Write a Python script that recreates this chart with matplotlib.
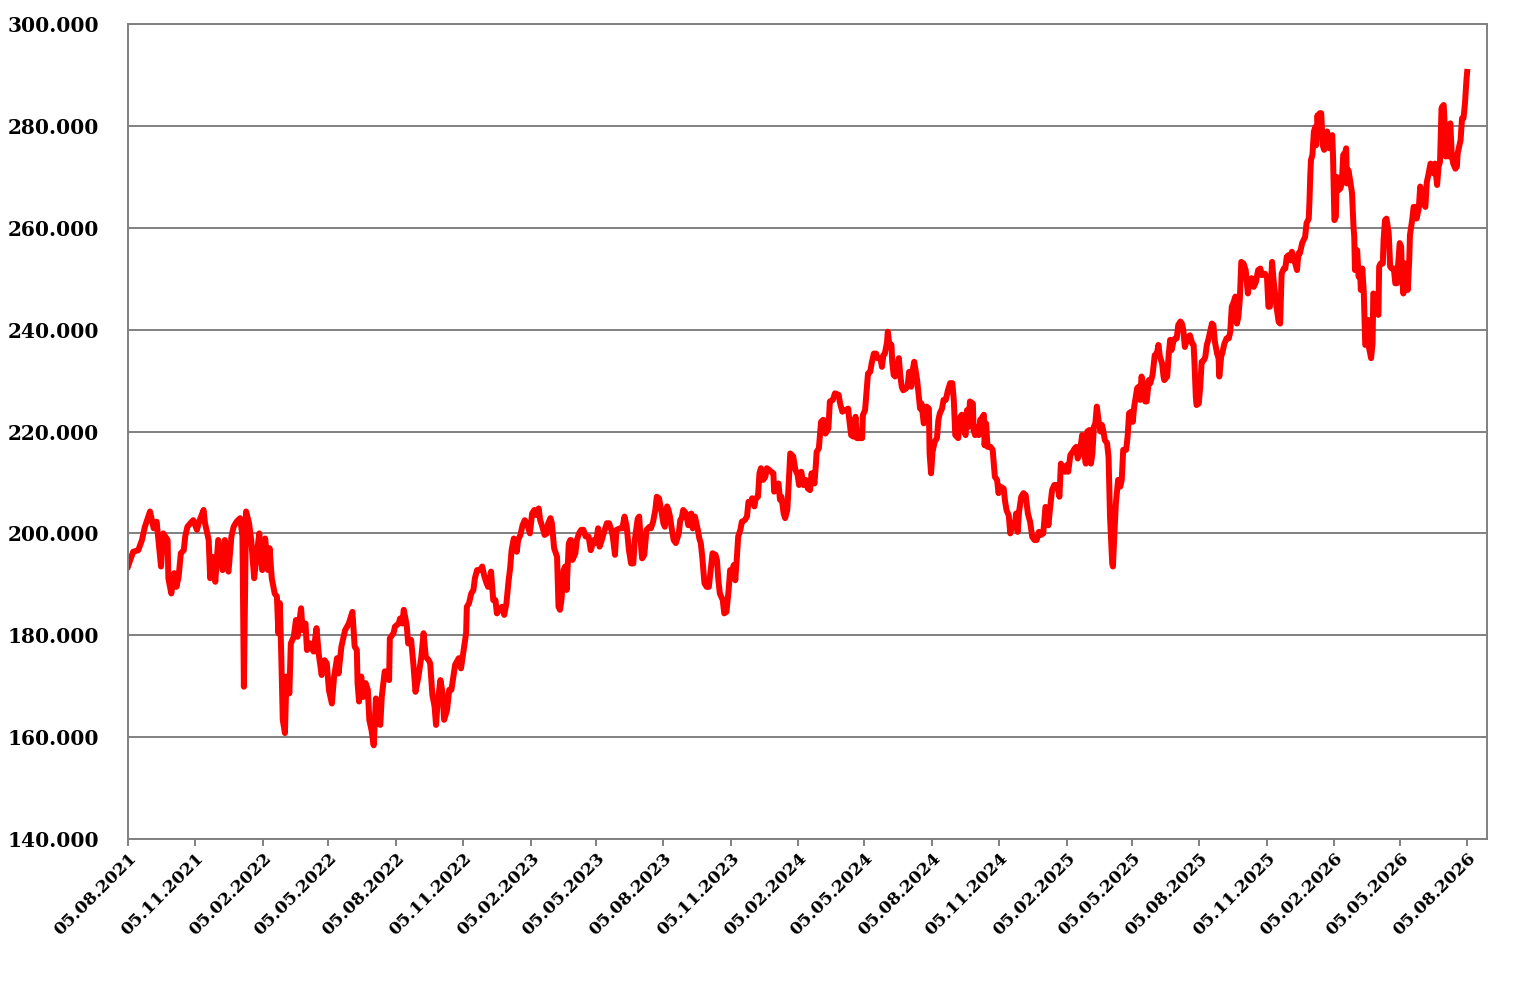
import matplotlib
matplotlib.use('Agg')
import matplotlib.pyplot as plt
import matplotlib.dates as mdates
import matplotlib.ticker as mticker
import pandas as pd

# values: (days since start, value in thousands)
start = pd.Timestamp('2021-08-05')

pts_2021 = [(0, 193.5), (7, 196.4), (14, 196.7), (19, 198.7), (23, 201.3), (30, 204.3), (35, 201.0), (39, 202.3),
            (45, 193.5), (48, 200.0), (54, 198.7), (55, 191.2), (59, 188.2), (63, 192.2), (66, 189.5), (69, 191.5),
            (72, 196.1), (76, 196.7), (78, 199.4), (81, 201.3), (85, 202.0), (89, 202.6), (94, 200.7), (97, 202.3),
            (103, 204.6), (105, 202.0), (110, 198.7), (112, 191.2), (115, 195.4), (119, 190.5), (123, 198.7),
            (129, 192.8), (132, 198.7), (137, 192.5), (141, 199.4), (144, 201.3), (148, 202.3), (153, 203.0),
            (156, 199.4), (158, 169.9), (161, 204.3), (165, 202.0), (168, 198.7), (172, 191.2), (176, 196.4),
            (179, 200.0), (183, 192.8), (187, 199.0), (191, 192.8), (193, 197.1), (196, 191.2), (200, 188.2),
            (203, 187.6), (205, 180.4), (207, 186.3), (209, 175.8), (211, 163.4), (214, 160.8), (216, 171.9),
            (220, 168.6), (222, 178.4), (226, 179.7), (229, 183.0), (231, 179.7), (236, 185.3), (238, 181.0),
            (242, 182.3), (244, 177.1), (248, 178.4), (253, 176.8), (257, 181.4), (260, 176.4), (264, 172.2),
            (268, 175.1), (271, 174.5), (274, 169.2), (278, 166.6), (281, 171.9), (285, 175.5), (287, 172.5),
            (291, 177.8), (296, 181.0), (301, 182.3)]

pts_2022 = [(306, 184.6), (309, 177.8), (312, 177.1), (313, 170.6), (315, 167.0), (318, 171.9), (321, 167.9),
            (324, 170.6), (327, 169.3), (329, 163.4), (332, 161.4), (335, 158.4), (338, 167.6), (341, 162.7),
            (344, 162.4), (346, 167.9), (350, 172.9), (353, 172.9), (356, 171.2), (357, 179.4), (362, 180.4),
            (364, 181.7), (369, 182.3), (371, 183.3), (374, 182.3), (376, 185.0), (380, 182.0), (382, 178.4),
            (386, 179.1), (389, 174.5), (392, 168.9), (396, 171.9), (400, 175.8), (403, 180.4), (406, 175.8),
            (410, 175.1), (412, 174.5), (415, 168.3), (418, 166.0), (420, 162.4), (422, 166.6), (426, 171.2),
            (429, 168.6), (431, 163.4), (435, 165.3), (438, 169.3), (441, 169.3), (446, 174.2), (451, 175.5),
            (454, 173.5), (457, 176.5), (461, 180.4), (462, 185.6), (465, 186.3), (468, 188.2), (471, 188.9),
            (473, 191.2), (476, 192.8), (480, 192.8), (483, 193.5), (486, 191.5), (489, 190.2), (491, 189.5),
            (495, 192.5), (498, 186.9), (501, 186.9), (503, 184.3), (506, 185.0), (510, 185.6), (513, 184.0),
            (516, 186.3), (519, 190.8), (521, 193.1), (523, 196.7), (526, 199.0), (528, 198.7), (530, 196.4),
            (532, 198.7), (535, 199.7), (538, 201.6), (541, 202.6), (544, 202.0), (548, 200.0), (551, 203.9),
            (554, 204.6), (557, 203.6), (560, 204.9), (562, 202.6), (565, 201.3), (568, 199.7), (571, 200.0),
            (573, 202.0), (576, 203.0), (578, 202.0), (581, 197.1), (585, 195.4), (587, 185.6), (589, 185.0),
            (591, 186.9), (594, 192.8), (596, 193.5), (598, 188.9), (601, 198.0), (603, 198.7)]

pts_2023 = [(604, 198.7), (606, 194.8), (610, 196.1), (612, 198.7), (615, 200.0), (618, 200.7), (621, 200.7),
            (624, 199.4), (628, 199.4), (631, 196.7), (635, 198.7), (638, 198.1), (641, 201.0), (643, 197.4),
            (646, 198.7), (650, 200.7), (653, 202.0), (656, 202.0), (659, 200.7), (661, 199.4), (664, 195.8),
            (666, 200.7), (671, 201.0), (674, 201.0), (677, 203.3), (680, 201.3), (683, 196.7), (686, 194.1),
            (689, 194.1), (691, 198.7), (695, 202.9), (697, 203.3), (700, 196.7), (701, 195.1), (704, 195.8),
            (707, 200.7), (711, 201.3), (713, 201.0), (716, 202.3), (719, 204.6), (721, 207.2), (724, 206.9),
            (727, 204.6), (730, 202.0), (732, 201.3), (735, 205.3), (737, 204.6), (739, 203.3), (741, 201.3),
            (744, 198.7), (747, 198.1), (751, 200.0), (753, 202.6), (755, 203.0), (757, 204.6), (761, 203.9),
            (764, 201.6), (768, 203.9), (770, 201.0), (773, 203.3), (777, 200.7), (779, 199.0), (781, 198.1),
            (783, 195.4), (786, 190.2), (789, 189.5), (792, 189.5), (795, 193.5), (797, 196.1), (801, 195.8),
            (803, 194.8), (805, 190.8), (807, 188.2), (811, 186.9), (813, 184.3), (816, 184.6), (819, 188.9),
            (821, 192.8), (823, 192.2), (826, 193.8), (828, 190.8), (830, 194.8), (832, 199.4), (835, 200.7),
            (837, 202.3), (841, 202.6), (844, 203.3), (846, 206.2), (850, 206.2), (851, 206.9), (854, 205.3),
            (856, 206.9), (859, 207.2), (861, 211.8), (863, 212.8), (866, 210.5), (869, 211.1), (871, 212.8),
            (874, 212.5), (877, 212.1), (880, 211.8), (881, 208.2), (885, 209.2), (887, 209.8), (889, 206.6),
            (891, 207.2), (894, 203.9), (896, 203.0)]

pts_2024 = [(899, 204.6), (903, 215.7), (907, 215.1), (910, 212.5), (913, 211.5), (915, 209.5), (918, 212.1),
            (921, 209.5), (924, 210.5), (927, 208.8), (930, 208.5), (932, 211.8), (936, 209.8), (938, 213.7),
            (939, 216.0), (942, 216.7), (945, 221.9), (948, 222.3), (951, 219.6), (955, 220.6), (957, 225.9),
            (961, 226.2), (964, 227.5), (969, 227.2), (971, 225.5), (974, 223.9), (978, 224.2), (982, 224.5),
            (983, 222.9), (986, 219.3), (989, 219.0), (992, 222.9), (994, 218.7), (997, 218.7), (1001, 218.7),
            (1002, 223.2), (1005, 224.2), (1007, 227.8), (1009, 231.4), (1012, 231.7), (1014, 233.4),
            (1017, 235.3), (1020, 235.3), (1022, 234.4), (1026, 234.4), (1028, 232.7), (1030, 235.0),
            (1032, 235.3), (1035, 237.6), (1036, 239.6), (1038, 237.3), (1041, 237.0), (1042, 233.7),
            (1044, 231.1), (1046, 230.8), (1048, 232.1), (1051, 234.4), (1053, 231.1), (1055, 228.8),
            (1057, 228.1), (1061, 228.5), (1063, 228.8), (1065, 231.7), (1068, 228.8), (1070, 232.1),
            (1072, 233.7), (1076, 230.1), (1078, 227.2), (1080, 224.5), (1082, 225.5), (1085, 221.6),
            (1087, 222.6), (1089, 224.9), (1092, 224.5), (1093, 215.7), (1095, 211.8), (1097, 216.0),
            (1100, 218.0), (1103, 218.7), (1105, 222.3), (1107, 223.6), (1110, 224.5), (1112, 226.2),
            (1115, 226.2), (1118, 228.1), (1121, 229.5), (1124, 229.5), (1126, 226.2), (1128, 219.3),
            (1132, 218.7), (1135, 222.9), (1137, 223.3), (1139, 220.6), (1142, 219.3), (1144, 224.2),
            (1146, 220.9), (1148, 225.9), (1152, 225.5), (1153, 220.3), (1155, 219.3), (1157, 220.9),
            (1160, 219.3), (1162, 222.3), (1164, 222.6), (1167, 223.3), (1168, 217.3), (1170, 221.6),
            (1172, 217.0), (1176, 217.0), (1179, 216.4), (1182, 211.1), (1185, 210.5), (1187, 207.9),
            (1189, 209.2), (1194, 208.8), (1196, 206.2), (1198, 204.5), (1201, 203.5)]

pts_2025 = [(1203, 200.0), (1206, 201.9), (1209, 201.3), (1211, 203.9), (1213, 200.3), (1215, 204.3),
            (1218, 207.2), (1221, 207.9), (1224, 207.5), (1227, 203.9), (1230, 202.3), (1233, 199.3),
            (1236, 198.7), (1239, 198.7), (1242, 200.3), (1245, 199.7), (1248, 200.0), (1251, 205.2),
            (1253, 204.6), (1255, 201.6), (1257, 204.6), (1260, 208.5), (1263, 209.5), (1267, 209.5),
            (1270, 207.2), (1272, 213.7), (1276, 212.4), (1278, 212.1), (1280, 213.4), (1282, 212.1),
            (1285, 215.4), (1288, 216.0), (1291, 216.7), (1293, 217.0), (1295, 214.7), (1298, 216.0),
            (1301, 219.3), (1303, 216.4), (1306, 213.7), (1308, 220.0), (1311, 220.3), (1313, 213.7),
            (1315, 215.7), (1317, 220.9), (1319, 221.6), (1321, 224.9), (1323, 222.6), (1326, 220.0),
            (1328, 221.3), (1330, 220.0), (1332, 218.3), (1335, 217.7), (1337, 215.0), (1339, 203.3),
            (1342, 194.1), (1343, 193.5), (1345, 200.0), (1347, 205.9), (1350, 210.5), (1353, 209.2),
            (1355, 210.5), (1357, 216.4), (1361, 216.4), (1363, 219.0), (1365, 223.6), (1368, 223.9),
            (1370, 221.9), (1372, 224.9), (1376, 228.5), (1378, 228.8), (1380, 226.2), (1382, 230.8),
            (1385, 228.8), (1387, 225.9), (1389, 225.9), (1392, 230.1), (1394, 229.5), (1397, 231.1),
            (1400, 235.0), (1403, 235.3), (1405, 237.0), (1407, 234.7), (1410, 233.4), (1412, 230.8),
            (1413, 230.1), (1417, 230.8), (1419, 235.0), (1421, 238.0), (1423, 236.0), (1426, 238.0),
            (1428, 238.3), (1430, 238.3), (1432, 240.9), (1435, 241.6), (1437, 241.2), (1439, 239.9),
            (1441, 236.6), (1444, 238.0), (1446, 238.6), (1448, 238.9), (1451, 237.3), (1453, 237.0),
            (1454, 234.0), (1456, 226.8), (1457, 225.2), (1460, 225.5), (1462, 228.8), (1464, 233.7),
            (1467, 234.0), (1469, 234.7), (1471, 237.0), (1473, 238.0), (1476, 239.9), (1478, 241.2),
            (1480, 240.9), (1482, 237.6), (1485, 235.3), (1487, 234.4), (1488, 230.8), (1491, 235.3),
            (1492, 235.3), (1495, 237.3), (1498, 238.3), (1501, 238.3), (1503, 239.6), (1505, 244.5),
            (1507, 245.2), (1510, 246.5), (1512, 241.2), (1514, 242.5), (1516, 246.0)]

pts_2026 = [(1518, 253.3), (1521, 253.0), (1524, 251.7), (1527, 247.1), (1529, 249.4), (1532, 250.1),
            (1535, 248.4), (1538, 249.4), (1541, 251.7), (1544, 252.0), (1546, 250.7), (1550, 251.0),
            (1553, 250.4), (1555, 244.5), (1557, 244.5), (1560, 253.3), (1562, 249.7), (1564, 247.1),
            (1566, 244.5), (1569, 241.5), (1571, 241.2), (1573, 251.0), (1576, 252.0), (1578, 252.0),
            (1580, 254.3), (1582, 254.6), (1585, 253.6), (1587, 255.3), (1589, 253.6), (1591, 253.3),
            (1594, 251.7), (1596, 255.0), (1598, 255.0), (1601, 257.0), (1603, 257.6), (1605, 258.2),
            (1607, 260.9), (1610, 261.8), (1611, 265.4), (1612, 270.0), (1613, 273.3), (1615, 274.3),
            (1617, 278.9), (1619, 279.8), (1620, 276.2), (1622, 282.1), (1623, 279.8), (1625, 282.5),
            (1627, 282.5), (1629, 276.2), (1631, 275.3), (1632, 276.9), (1635, 278.9), (1637, 277.2),
            (1638, 275.6), (1641, 277.9), (1642, 278.2), (1643, 274.6), (1644, 268.1), (1645, 261.5),
            (1647, 262.2), (1648, 270.0), (1651, 267.4), (1653, 267.7), (1655, 268.7), (1657, 274.3),
            (1660, 274.9), (1661, 275.6), (1662, 268.7), (1664, 271.3), (1666, 269.7), (1669, 266.8),
            (1671, 260.2), (1672, 258.3), (1673, 251.7), (1676, 255.6), (1678, 250.4), (1680, 251.4),
            (1681, 247.8), (1683, 252.0), (1685, 247.4), (1687, 237.0), (1689, 237.3), (1691, 241.9),
            (1692, 236.6), (1695, 234.4), (1697, 237.3), (1698, 247.1), (1701, 246.8), (1703, 243.2),
            (1705, 242.9), (1706, 252.4), (1708, 253.0), (1711, 253.0), (1712, 257.6), (1714, 261.5),
            (1716, 261.8), (1719, 259.0), (1721, 252.4), (1723, 252.0), (1726, 252.0), (1728, 249.1),
            (1730, 249.1), (1734, 257.0), (1736, 256.3), (1737, 251.0), (1739, 247.1), (1741, 253.0),
            (1743, 252.7), (1745, 247.8), (1747, 253.6), (1748, 258.6), (1751, 261.5), (1753, 264.1),
            (1755, 264.1), (1757, 261.8), (1760, 263.8), (1762, 268.1), (1764, 267.1), (1766, 264.8),
            (1769, 264.1), (1771, 269.0), (1773, 270.3), (1776, 272.6), (1778, 272.3), (1780, 270.7),
            (1782, 272.6), (1785, 268.4), (1787, 272.0), (1789, 273.0), (1791, 283.4), (1792, 283.8),
            (1794, 284.1), (1795, 281.2), (1797, 274.0), (1799, 278.9), (1801, 274.0), (1803, 280.5),
            (1805, 274.3), (1807, 272.6), (1810, 271.6), (1812, 272.0), (1813, 274.6), (1815, 275.9),
            (1817, 277.2), (1819, 281.5), (1821, 281.5), (1823, 284.4), (1825, 289.0), (1826, 290.6)]

y_ticks = [140000, 160000, 180000, 200000, 220000, 240000, 260000, 280000, 300000]

pts = pts_2021 + pts_2022 + pts_2023 + pts_2024 + pts_2025 + pts_2026
dates = [start + pd.Timedelta(days=d) for d, _ in pts]
values = [v * 1000 for _, v in pts]

fig = plt.figure(figsize=(15.24, 9.85), dpi=100)
ax = fig.add_axes([0.084, 0.1482, 0.8917, 0.8274])

ax.plot(dates, values, color='#ff0000', lw=4.3, solid_joinstyle='round')

ax.set_ylim(140000, 300000)
ax.set_yticks(y_ticks)
ax.yaxis.set_major_formatter(mticker.FuncFormatter(lambda v, p: '{:,.0f}'.format(v).replace(',', '.')))
ax.grid(axis='y', color='#808080', lw=1.4)
ax.set_axisbelow(True)

ax.set_xlim(start, start + pd.Timedelta(days=1853))
ax.xaxis.set_major_locator(mdates.MonthLocator(bymonth=[2, 5, 8, 11], bymonthday=5))
ax.xaxis.set_major_formatter(mdates.DateFormatter('%d.%m.%Y'))

for s in ax.spines.values():
    s.set_color('#808080')
    s.set_linewidth(1.4)

ax.tick_params(axis='y', length=0, pad=21)
ax.tick_params(axis='x', length=5, width=1.4, color='#808080', pad=3)
for lab in ax.get_yticklabels():
    lab.set_fontfamily('DejaVu Serif')
    lab.set_fontweight('bold')
    lab.set_fontsize(14.5)
for lab in ax.get_xticklabels():
    lab.set_fontfamily('DejaVu Serif')
    lab.set_fontweight('bold')
    lab.set_fontsize(12.5)
    lab.set_rotation(45)
    lab.set_ha('right')
    lab.set_va('top')
    lab.set_rotation_mode('anchor')

fig.savefig('out.png', dpi=100)
